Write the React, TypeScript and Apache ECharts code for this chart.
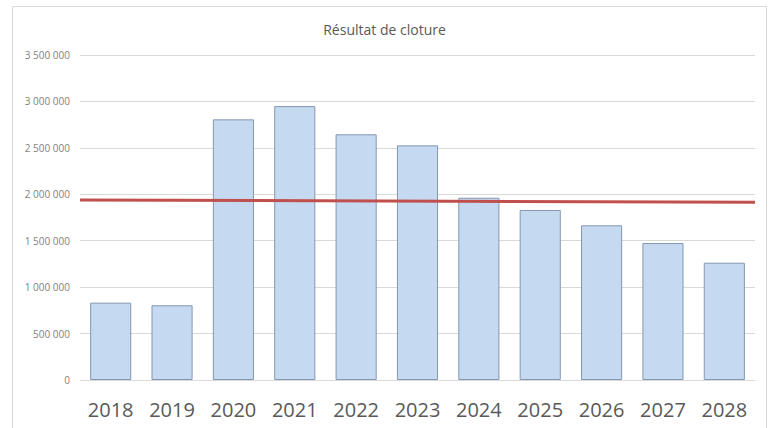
import React, { useEffect, useRef } from "react";
import * as echarts from "echarts";

const years = ["2018", "2019", "2020", "2021", "2022", "2023", "2024", "2025", "2026", "2027", "2028"];
const resultat = [833000, 805000, 2807000, 2950000, 2646000, 2527000, 1963000, 1831000, 1666000, 1475000, 1263000];
const trendEnds = ["start", "end"];
const trendValues = [1938000, 1914000];
const yTicks = { min: 0, max: 3500000, interval: 500000 };
const title = "Résultat de cloture";

const fmt = (v: number) => String(v).replace(/\B(?=(\d{3})+(?!\d))/g, " ");

export default function App() {
  const ref = useRef<HTMLDivElement>(null);
  useEffect(() => {
    const chart = echarts.init(ref.current!, null, { renderer: "svg" });
    chart.setOption({
      animation: false,
      backgroundColor: "#ffffff",
      title: {
        text: title,
        left: "center",
        top: 17,
        textStyle: { fontFamily: "Open Sans", fontSize: 14, fontWeight: "normal", color: "#595959" },
      },
      graphic: [
        {
          type: "rect",
          shape: { x: 12.5, y: 6.5, width: 754, height: 440 },
          style: { fill: "none", stroke: "#d9d9d9", lineWidth: 1 },
          silent: true,
        },
      ],
      grid: { left: 80, right: 14, top: 55, bottom: 48 },
      xAxis: [
        {
          type: "category",
          data: years,
          axisTick: { show: false },
          axisLine: { lineStyle: { color: "#d9d9d9" } },
          axisLabel: { fontFamily: "Open Sans", fontSize: 20, color: "#595959", margin: 19 },
        },
        {
          type: "category",
          data: trendEnds,
          boundaryGap: false,
          show: false,
          position: "bottom",
        },
      ],
      yAxis: {
        type: "value",
        min: yTicks.min,
        max: yTicks.max,
        interval: yTicks.interval,
        axisLine: { show: false },
        axisTick: { show: false },
        splitLine: { lineStyle: { color: "#d9d9d9" } },
        axisLabel: { fontFamily: "Open Sans", fontSize: 10, color: "#7f7f7f", formatter: fmt, margin: 10 },
      },
      series: [
        {
          type: "bar",
          data: resultat,
          xAxisIndex: 0,
          barCategoryGap: "33%",
          itemStyle: { color: "#c5d9f1", borderColor: "#8497b0", borderWidth: 1 },
        },
        {
          type: "line",
          data: trendValues,
          xAxisIndex: 1,
          symbol: "none",
          lineStyle: { color: "#c0504d", width: 3 },
          z: 5,
        },
      ],
    });
    return () => chart.dispose();
  }, []);
  return <div ref={ref} style={{ position: "fixed", left: 0, top: 0, width: 769, height: 428 }} />;
}
